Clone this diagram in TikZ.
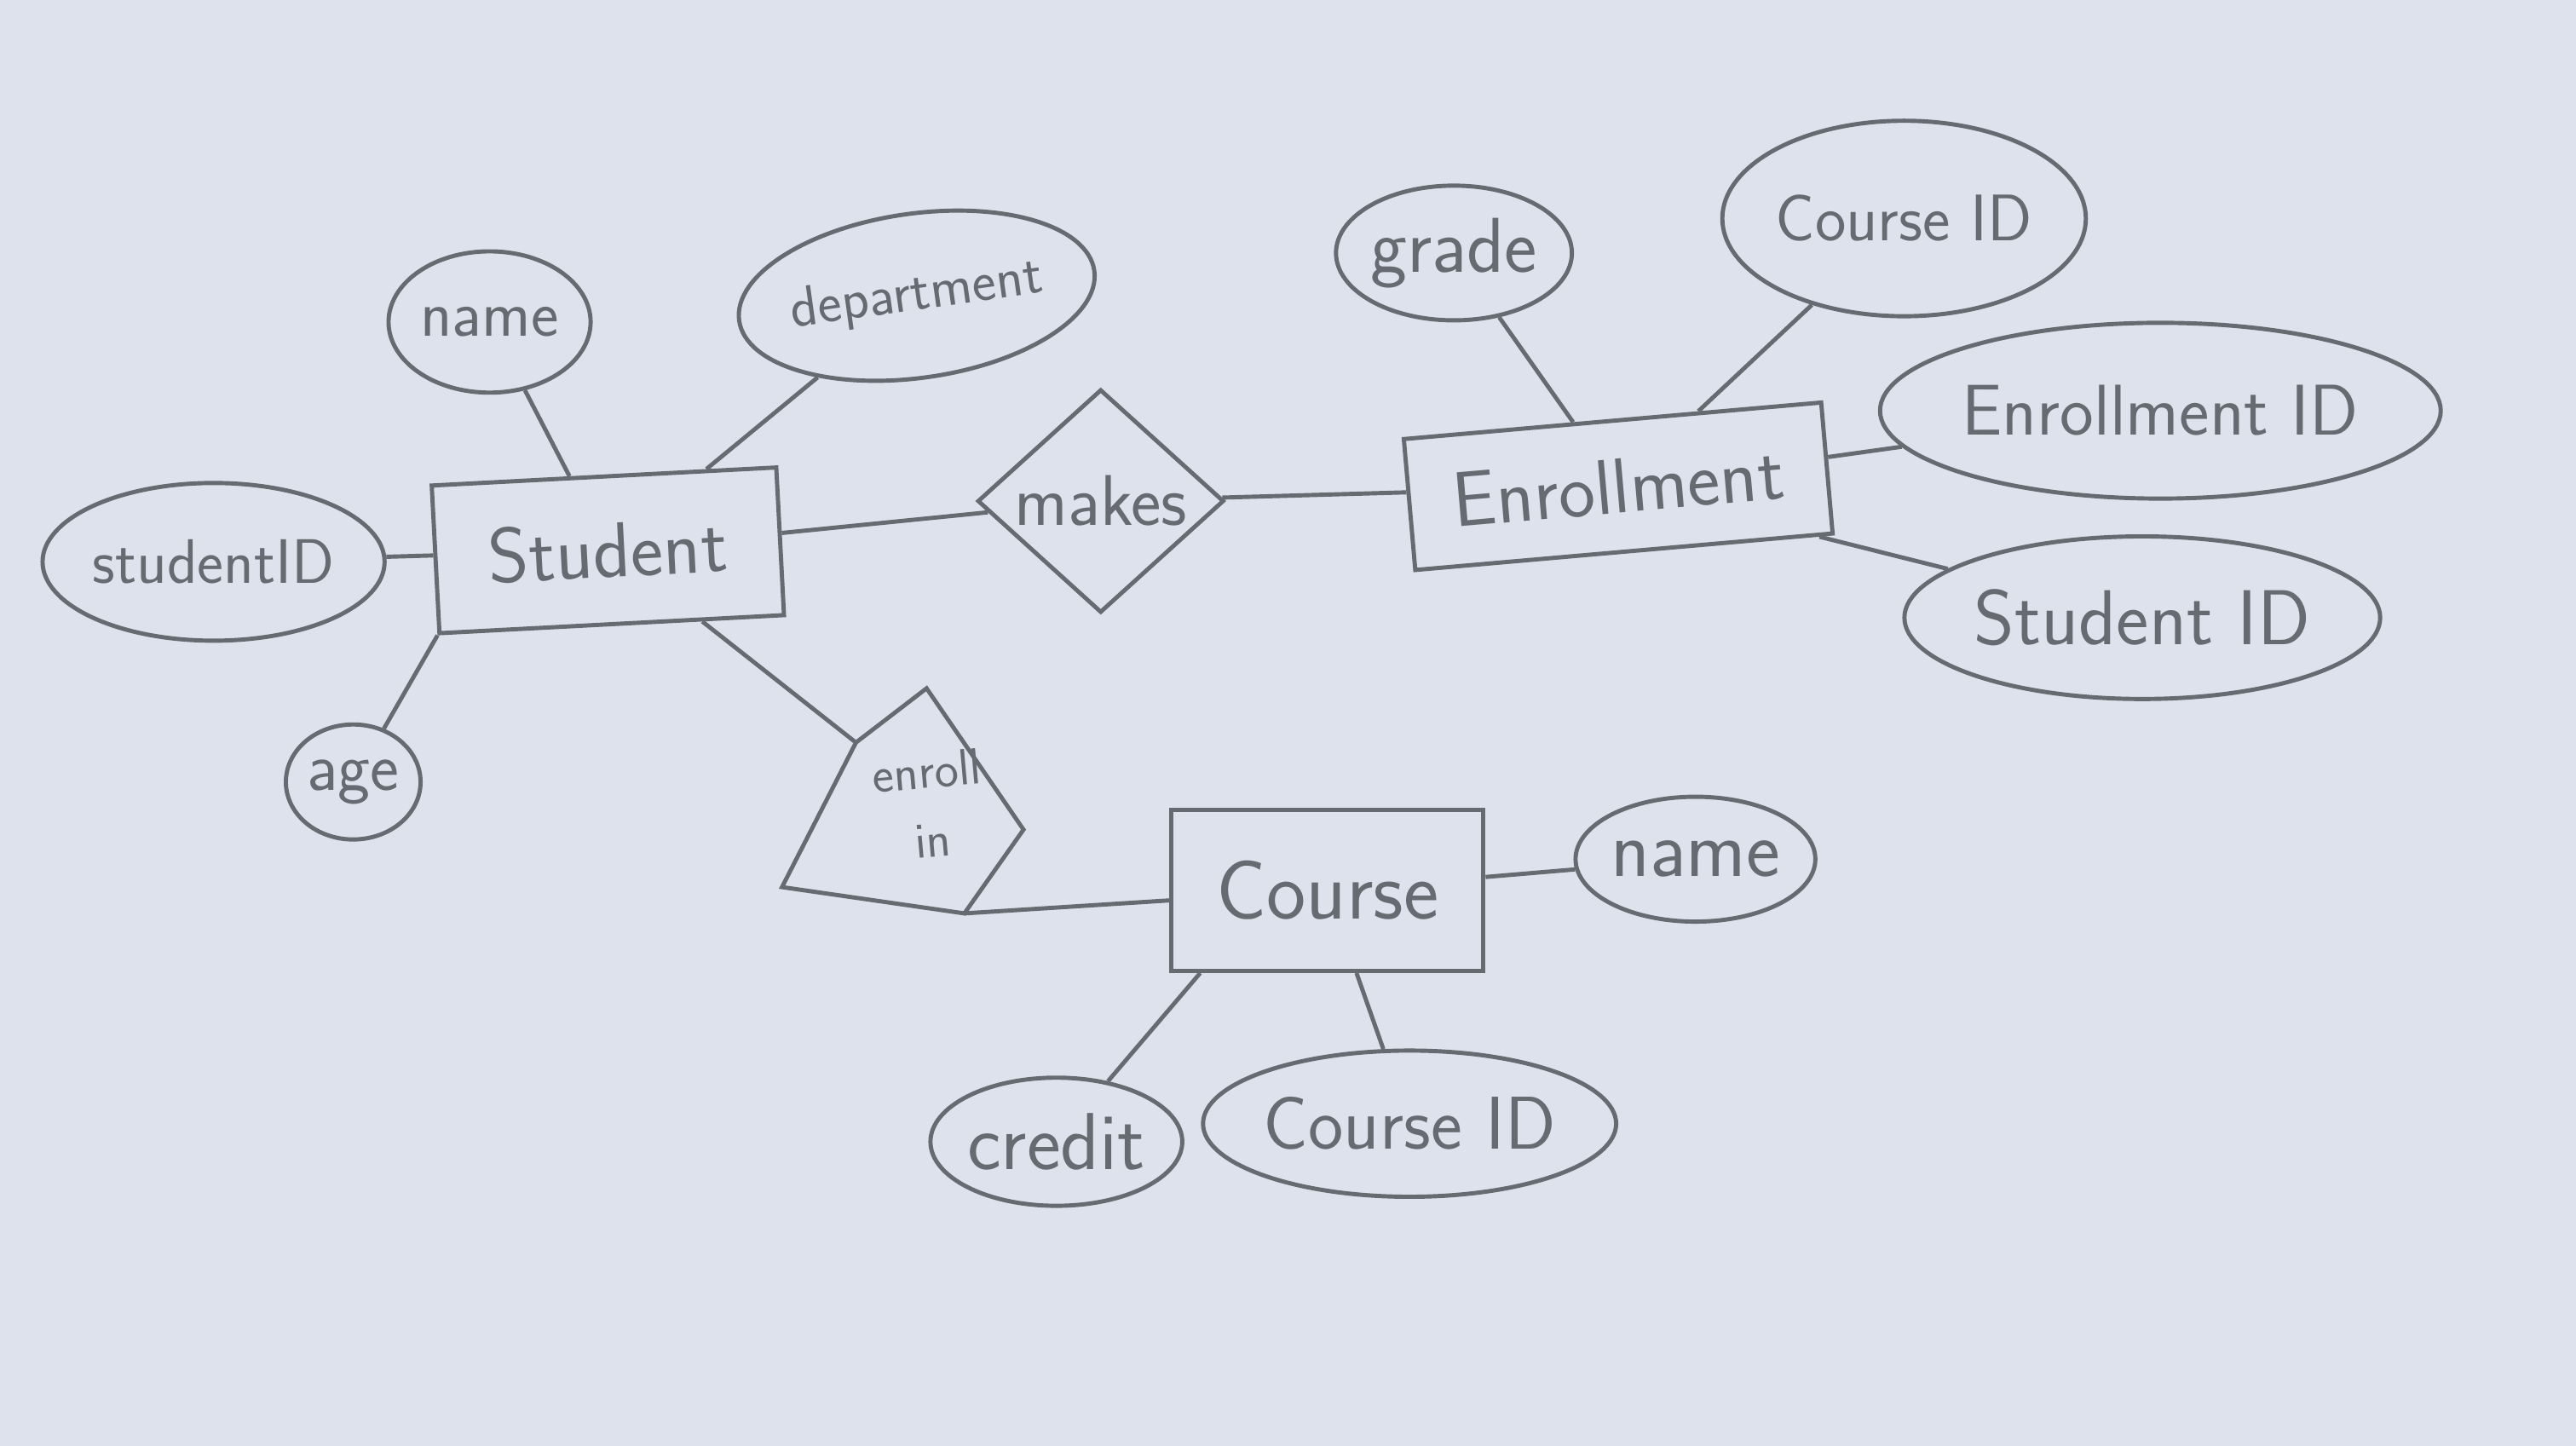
\documentclass[tikz,border=0pt]{standalone}
\usepackage{tikz}
\usetikzlibrary{shapes.geometric}
\definecolor{paper}{RGB}{221,226,236}
\definecolor{pencil}{RGB}{104,106,114}

\begin{document}
\begin{tikzpicture}[x=0.01928cm,y=-0.01928cm,line width=1.4pt,color=pencil,
  wh/.style 2 args={minimum width=#1*0.01928cm,minimum height=#2*0.01928cm},
  fs/.style={font=\sffamily\fontsize{#1}{#1}\selectfont},
  entity/.style={draw,rectangle,inner sep=0pt},
  attrib/.style={draw,ellipse,inner sep=0pt},
  relation/.style={draw,diamond,inner sep=0pt}]
\useasboundingbox (0,0) rectangle (1568,880);
\fill[paper] (0,0) rectangle (1568,880);
\node[entity,wh={210}{90},rotate=3,fs=26] (stud) at (370,335) {Student};
\node[attrib,wh={187}{96},fs=21] (sid) at (130,342) {studentID};
\node[attrib,wh={123}{86},fs=22] (sname) at (298,196) {name};
\node[attrib,wh={195}{100},rotate=8,fs=19] (dept) at (558,180) {department};
\node[attrib,wh={82}{70},fs=23] (age) at (215,476) {age};
\node[relation,wh={150}{125},fs=24] (makes) at (670,305) {makes};
\node[entity,wh={255}{80},rotate=5,fs=26] (enr) at (985,296) {Enrollment};
\node[attrib,wh={133}{82},fs=26] (grade) at (885,154) {grade};
\node[attrib,wh={202}{119},fs=22] (ecid) at (1159,133) {Course ID};
\node[attrib,wh={275}{107},fs=24] (eid) at (1315,250) {Enrollment ID};
\node[attrib,wh={273}{99},fs=26] (esid) at (1304,376) {Student ID};
\node[entity,wh={190}{98},fs=28] (course) at (808,542) {Course};
\node[attrib,wh={139}{76},fs=27] (cname) at (1032,523) {name};
\node[attrib,wh={133}{78},fs=27] (credit) at (643,695) {credit};
\node[attrib,wh={207}{89},fs=25] (ccid) at (858,684) {Course ID};
\coordinate (ei1) at (564,419);
\coordinate (ei2) at (623,505);
\coordinate (ei3) at (587,556);
\coordinate (ei4) at (476,540);
\coordinate (ei5) at (521,452);
\draw (ei1) -- (ei2) -- (ei3) -- (ei4) -- (ei5) -- cycle;
\node[font=\sffamily\fontsize{17}{23}\selectfont,align=center,rotate=5] (enrin) at (566,490) {enroll\\in};
\draw (stud) -- (sid);
\draw (stud) -- (sname);
\draw (stud) -- (dept);
\draw (stud.south west) -- (age);
\draw (stud) -- (makes);
\draw (makes) -- (enr);
\draw (stud.-40) -- (ei5);
\draw (ei3) -- (course);
\draw (enr) -- (grade);
\draw (enr) -- (ecid);
\draw (enr) -- (eid);
\draw (enr) -- (esid);
\draw (course) -- (cname);
\draw (course.-147) -- (credit);
\draw (course) -- (ccid);
\end{tikzpicture}
\end{document}
